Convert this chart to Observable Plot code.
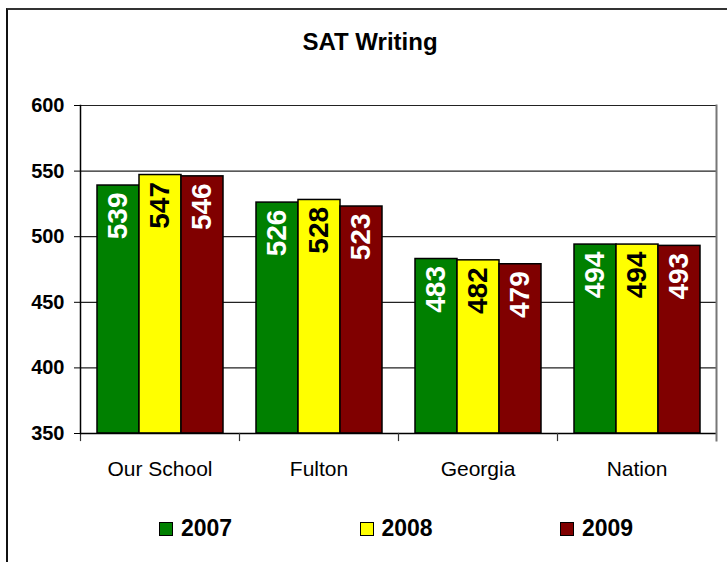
<!DOCTYPE html>
<html>
<head>
<meta charset="utf-8">
<script src="https://cdn.jsdelivr.net/npm/d3@7"></script>
<script src="https://cdn.jsdelivr.net/npm/@observablehq/plot@0.6"></script>
<style>
  html, body { margin: 0; padding: 0; background: #fff; }
  body { font-family: "Liberation Sans", Arial, sans-serif; }
  #wrap { position: relative; width: 727px; height: 562px; overflow: hidden; background: #fff; }
  #border { position: absolute; left: 6px; top: 8px; width: 740px; height: 600px;
            border-left: 2px solid #111; border-top: 2px solid #333; z-index: 5; pointer-events: none; }
  #title { position: absolute; left: 0; top: 30px; width: 740px; text-align: center;
           font-size: 24px; font-weight: bold; line-height: 24px; color: #000; }
  #chart { position: absolute; left: 0; top: 60px; }
  #legend { position: absolute; left: 159px; top: 515px; display: flex; }
  .item { width: 200.5px; display: flex; align-items: center; font-size: 23px; font-weight: bold; }
  .sw { width: 12px; height: 12px; border: 1.5px solid #000; margin-right: 8px; }
</style>
</head>
<body>
<div id="wrap">
  <div id="border"></div>
  <div id="title">SAT Writing</div>
  <div id="chart"></div>
  <div id="legend"></div>
</div>
<script>
const categories = ["Our School", "Fulton", "Georgia", "Nation"];
const years = ["2007", "2008", "2009"];
const colors = ["#008000", "#FFFF00", "#800000"];
const labelColors = ["#ffffff", "#000000", "#ffffff"];
const scores2007 = [539, 526, 483, 494];
const scores2008 = [547, 528, 482, 494];
const scores2009 = [546, 523, 479, 493];
const yTicks = [350, 400, 450, 500, 550, 600];

const series = [scores2007, scores2008, scores2009];
const data = [];
categories.forEach((c, i) => {
  years.forEach((y, j) => data.push({category: c, year: y, value: series[j][i]}));
});

const W = 727, H = 440, mT = 45, mB = 67, mL = 79, mR = 10;
const plotH = H - mT - mB;
const font = '"Liberation Sans", Arial, sans-serif';

const chart = Plot.plot({
  width: W,
  height: H,
  marginTop: mT,
  marginBottom: mB,
  marginLeft: mL,
  marginRight: mR,
  style: {fontFamily: font, background: "transparent", overflow: "visible"},
  fx: {domain: categories, padding: 0, label: null},
  x: {domain: years, paddingInner: 0, paddingOuter: 0.376, axis: null},
  y: {domain: [yTicks[0], yTicks[yTicks.length - 1]], label: null},
  color: {domain: years, range: colors},
  marks: [
    Plot.gridY({ticks: yTicks.slice(1), stroke: "#222", strokeOpacity: 1, strokeWidth: 1.2}),
    Plot.barY(data, {
      fx: "category", x: "year", y1: () => yTicks[0], y2: "value",
      fill: "year", stroke: "#000", strokeWidth: 1.5
    }),
    Plot.text(data, {
      fx: "category", x: "year", y: "value",
      text: d => String(d.value),
      rotate: -90, textAnchor: "end", dy: 7,
      fill: d => labelColors[years.indexOf(d.year)],
      fontSize: 28, fontWeight: "bold"
    }),
    Plot.ruleY([yTicks[0]], {stroke: "#000", strokeWidth: 1.5}),
    Plot.frame({anchor: "left", insetTop: plotH, insetBottom: -7, stroke: "#333", strokeWidth: 1.2}),
    Plot.frame({anchor: "left", facetAnchor: "left", stroke: "#000", strokeWidth: 1.5}),
    Plot.frame({anchor: "right", facetAnchor: "right", insetBottom: -7, stroke: "#777", strokeWidth: 2}),
    Plot.axisY({ticks: yTicks, tickSize: 6, tickPadding: 10, fontSize: 20, fontWeight: "bold", fill: "#000", label: null}),
    Plot.axisFx({anchor: "bottom", tickSize: 0, tickPadding: 28, fontSize: 21, fill: "#000", label: null})
  ]
});
document.getElementById("chart").appendChild(chart);

const legend = document.getElementById("legend");
years.forEach((y, j) => {
  const item = document.createElement("div");
  item.className = "item";
  const sw = document.createElement("div");
  sw.className = "sw";
  sw.style.background = colors[j];
  const t = document.createElement("span");
  t.textContent = y;
  item.appendChild(sw);
  item.appendChild(t);
  legend.appendChild(item);
});
</script>
</body>
</html>
